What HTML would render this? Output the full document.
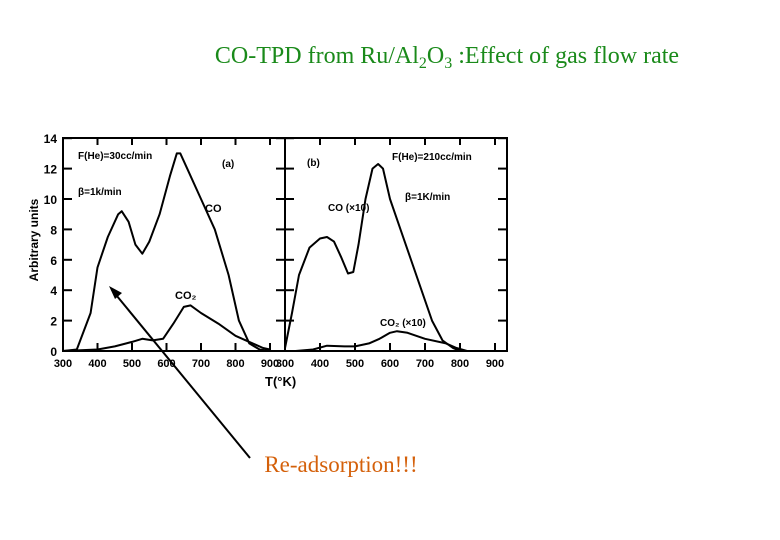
<!DOCTYPE html>
<html><head><meta charset="utf-8"><style>
body{margin:0;background:#fff;width:780px;height:540px;overflow:hidden;}
svg{display:block}
</style></head><body>
<svg width="780" height="540" viewBox="0 0 780 540" font-family="Liberation Sans, sans-serif">
<text x="447" y="63" text-anchor="middle" font-family="Liberation Serif, serif" font-size="24" fill="#1a8a1a">CO-TPD from Ru/Al<tspan font-size="16" dy="5">2</tspan><tspan dy="-5">O</tspan><tspan font-size="16" dy="5">3</tspan><tspan dy="-5"> :Effect of gas flow rate</tspan></text>
<g id="chart"></g>
<line x1="250" y1="458" x2="112" y2="290" stroke="#000" stroke-width="2"/>
<polygon points="109,286 122,293 115,299" fill="#000"/>
<text x="341" y="472" text-anchor="middle" font-family="Liberation Serif, serif" font-size="23" fill="#d4600a">Re-adsorption!!!</text>
</svg>
<script>
const yTicks=[0,2,4,6,8,10,12,14];
const xTickLabels=[300,400,500,600,700,800,900];
const coA_T=[300,340,380,400,430,460,470,490,510,530,550,580,610,630,640,660,700,740,780,810,840,870,900];
const coA_V=[0,0.1,2.5,5.5,7.5,9,9.2,8.5,7,6.4,7.2,9,11.5,13,13,12,10,8,5,2,0.5,0.1,0];
const co2A_T=[300,400,450,500,530,560,590,620,650,670,700,750,800,850,880,900];
const co2A_V=[0,0.1,0.3,0.6,0.8,0.7,0.8,1.8,2.9,3.0,2.5,1.8,1.0,0.5,0.2,0.1];
const coB_T=[300,320,340,370,400,420,440,460,480,495,510,530,550,566,580,600,630,660,690,720,750,780,800];
const coB_V=[0.2,2.5,5,6.8,7.4,7.5,7.2,6.2,5.1,5.2,7,10,12,12.3,12,10,8,6,4,2,0.7,0.2,0];
const co2B_T=[330,380,420,470,500,540,570,600,620,650,700,760,790,820];
const co2B_V=[0,0.1,0.35,0.3,0.3,0.5,0.8,1.2,1.3,1.2,0.8,0.5,0.2,0];
const NS='http://www.w3.org/2000/svg';
const g=document.getElementById('chart');
const y0=351,yk=15.2;
const ys=v=>y0-v*yk;
const xa=t=>63+(t-300)*0.345;
const xb=t=>285+(t-300)*0.35;
function el(tag,attrs,parent){const e=document.createElementNS(NS,tag);for(const k in attrs)e.setAttribute(k,attrs[k]);(parent||g).appendChild(e);return e;}
const fr=el('rect',{x:63,y:138,width:444,height:213,fill:'none',stroke:'#000','stroke-width':2});


const dv=el('line',{x1:285,y1:138,x2:285,y2:351,stroke:'#000','stroke-width':2});


yTicks.forEach(v=>{
  [[63,1],[285,1],[285,-1],[507,-1]].forEach(([x,d])=>{
    const t=el('line',{x1:x,y1:ys(v),x2:x+d*9,y2:ys(v),stroke:'#000','stroke-width':2});
    
    
  });
  const l=el('text',{x:57,y:ys(v)+5,'text-anchor':'end','font-size':12,'font-weight':'bold'});
  l.textContent=v;
  
  
});
xTickLabels.forEach(v=>{
  [xa,xb].forEach(f=>{
    const tb=el('line',{x1:f(v),y1:351,x2:f(v),y2:343,stroke:'#000','stroke-width':2});
    
    
    const tt=el('line',{x1:f(v),y1:138,x2:f(v),y2:145,stroke:'#000','stroke-width':2});
    
    
    const l=el('text',{x:f(v),y:367,'text-anchor':'middle','font-size':11,'font-weight':'bold'});
    l.textContent=v;
    
    
  });
});
function line(T,V,f,name){
  const d=T.map((t,i)=>(i?'L':'M')+f(t).toFixed(1)+','+ys(V[i]).toFixed(1)).join(' ');
  const p=el('path',{d:d,fill:'none',stroke:'#000','stroke-width':2,'stroke-linejoin':'round'});
  
  
}
line(coA_T,coA_V,xa,'co-curve-a');
line(co2A_T,co2A_V,xa,'co2-curve-a');
line(coB_T,coB_V,xb,'co-curve-b');
line(co2B_T,co2B_V,xb,'co2-curve-b');
function txt(x,y,s,sz,name,extra){
  const t=el('text',Object.assign({x:x,y:y,'font-size':sz,'font-weight':'bold'},extra||{}));
  t.textContent=s;
  
  
  return t;
}
txt(78,159,'F(He)=30cc/min',10,'flow-label-a');
txt(78,195,'β=1k/min',10,'rate-label-a');
txt(222,167,'(a)',10,'panel-label-a');
txt(205,212,'CO',11,'co-label-a');
txt(175,299,'CO₂',11,'co2-label-a');
txt(307,166,'(b)',10,'panel-label-b');
txt(392,160,'F(He)=210cc/min',10,'flow-label-b');
txt(405,200,'β=1K/min',10,'rate-label-b');
txt(328,211,'CO (×10)',10,'co-label-b');
txt(380,326,'CO₂ (×10)',10,'co2-label-b');
txt(265,386,'T(°K)',13,'x-axis-title');
txt(0,0,'Arbitrary units',12,'y-axis-title',{transform:'translate(38,240) rotate(-90)','text-anchor':'middle'});
</script>
</body></html>
